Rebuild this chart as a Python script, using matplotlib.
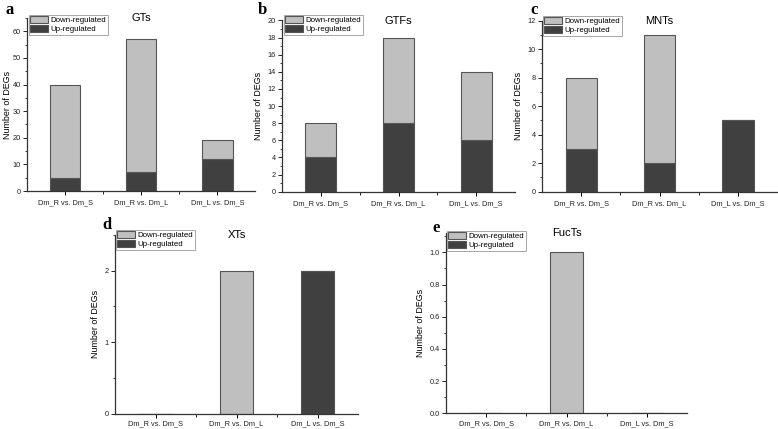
import matplotlib
matplotlib.use("Agg")
import matplotlib.pyplot as plt
from matplotlib.ticker import MultipleLocator, FixedLocator

plt.rcParams['font.family'] = ['Liberation Sans', 'DejaVu Sans']

categories = ["Dm_R vs. Dm_S", "Dm_R vs. Dm_L", "Dm_L vs. Dm_S"]

gts_up = [5, 7, 12]
gts_down = [35, 50, 7]
gtfs_up = [4, 8, 6]
gtfs_down = [4, 10, 8]
mnts_up = [3, 2, 5]
mnts_down = [5, 9, 0]
xts_up = [0, 0, 2]
xts_down = [0, 2, 0]
fucts_up = [0, 0, 0]
fucts_down = [0, 1, 0]

LIGHT = "#bfbfbf"
DARK = "#404040"
EDGE = "#555555"
W, H = 778, 429

fig = plt.figure(figsize=(W / 100, H / 100), dpi=100)


def px_axes(left, top, right, bottom):
    return fig.add_axes([left / W, 1 - bottom / H, (right - left) / W, (bottom - top) / H])


def panel(box, up, down, title, letter, ylim, major, minor, leg_xy, xpad=3.2, ypad=3):
    ax = px_axes(*box)
    x = range(len(categories))
    ax.bar(x, up, 0.4, color=DARK, edgecolor=EDGE, linewidth=0.8, label="Up-regulated")
    ax.bar(x, down, 0.4, bottom=up, color=LIGHT, edgecolor=EDGE, linewidth=0.8,
           label="Down-regulated")
    ax.set_xlim(-0.5, 2.5)
    ax.set_ylim(0, ylim)
    ax.set_xticks(list(x))
    ax.set_xticklabels(categories, fontsize=5.3, color="#222222")
    ax.xaxis.set_minor_locator(FixedLocator([0.5, 1.5]))
    ax.yaxis.set_major_locator(MultipleLocator(major))
    ax.yaxis.set_minor_locator(MultipleLocator(minor))
    ax.tick_params(axis='y', which='major', labelsize=5.3, length=3, width=0.7,
                   pad=1.5, colors="#222222")
    ax.tick_params(axis='y', which='minor', length=1.8, width=0.6, colors="#222222")
    ax.tick_params(axis='x', which='major', length=3, width=0.7, pad=xpad)
    ax.tick_params(axis='x', which='minor', length=2, width=0.6)
    for s in ['top', 'right']:
        ax.spines[s].set_visible(False)
    for s in ['left', 'bottom']:
        ax.spines[s].set_linewidth(0.9)
        ax.spines[s].set_color("#333333")
    ax.set_ylabel("Number of DEGs", fontsize=6.4, labelpad=ypad)
    ax.text(0.5, 1.0, title, transform=ax.transAxes, ha='center', va='center', fontsize=8)

    # legend anchored in pixel terms
    l, t, r, b = box
    bx = (leg_xy[0] - l) / (r - l)
    by = (b - leg_xy[1]) / (b - t)
    handles, labels = ax.get_legend_handles_labels()
    leg = ax.legend(handles[::-1], labels[::-1], loc='upper left', bbox_to_anchor=(bx, by),
                    fontsize=5.7, frameon=True, fancybox=False, framealpha=1,
                    edgecolor="#999999", borderpad=0.15, labelspacing=0.1,
                    handlelength=2.3, handleheight=1.0, handletextpad=0.3,
                    borderaxespad=0)
    leg.get_frame().set_linewidth(0.6)

    fig.text(box[0] / W + letter[1] / W, 1 - letter[2] / H, letter[0], fontsize=12,
             fontweight='bold', family='Liberation Serif', ha='left', va='top')
    return ax


panel((27, 18, 255.5, 191), gts_up, gts_down, "GTs", ("a", -22, 2), 65, 10, 5, (29, 15),
      ypad=0.5)
panel((282, 20.5, 515, 191.7), gtfs_up, gtfs_down, "GTFs", ("b", -24, 2), 20, 2, 1, (284, 15))
panel((542, 20.5, 777, 191.7), mnts_up, mnts_down, "MNTs", ("c", -12, 2), 12, 2, 1, (543, 16))
panel((115, 235, 358, 413.7), xts_up, xts_down, "XTs", ("d", -13, 217), 2.5, 1, 0.5, (116, 230),
      xpad=1.8)
panel((446, 233, 687, 413.3), fucts_up, fucts_down, "FucTs", ("e", -14, 220), 1.12, 0.2, 0.1,
      (447, 231), xpad=1.8)

fig.savefig("out.png", dpi=100)
